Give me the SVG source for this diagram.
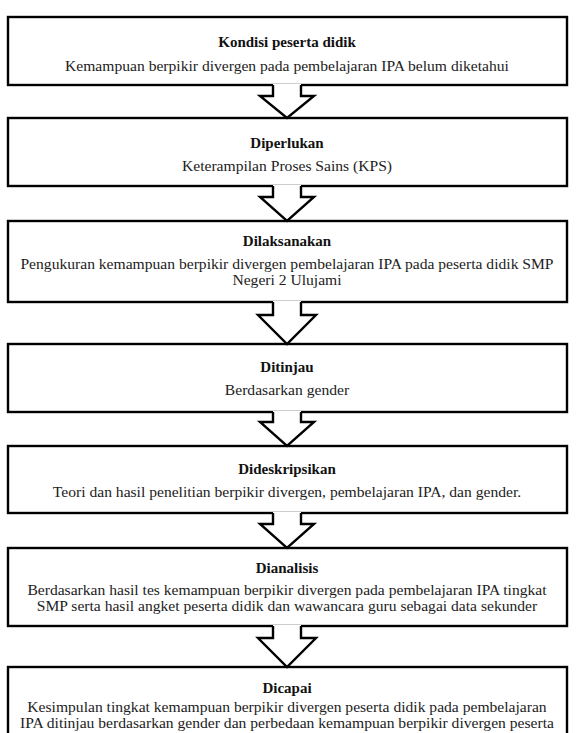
<svg xmlns="http://www.w3.org/2000/svg" width="576" height="733" viewBox="0 0 576 733">
<style>
.box{fill:#fff;stroke:#000;stroke-width:2.4}
text{font-family:'Liberation Serif','Times New Roman','DejaVu Serif',serif;text-anchor:middle}
.t{font-size:15px;font-weight:bold;fill:#111}
.b{font-size:15.6px;fill:#222}
.af{fill:#fff;stroke:none}
.as{fill:none;stroke:#000;stroke-width:2.4;stroke-linejoin:miter}
</style>
<rect width="576" height="733" fill="#fff"/>
<g id="n1"><rect class="box" x="8" y="17" width="559" height="68"/>
<text class="t" x="287" y="47">Kondisi peserta didik</text>
<text class="b" x="287" y="71">Kemampuan berpikir divergen pada pembelajaran IPA belum diketahui</text></g>
<g id="n2"><rect class="box" x="8" y="118" width="559" height="68"/>
<text class="t" x="287" y="148">Diperlukan</text>
<text class="b" x="287" y="171">Keterampilan Proses Sains (KPS)</text></g>
<g id="n3"><rect class="box" x="8" y="221" width="559" height="81"/>
<text class="t" x="287" y="246">Dilaksanakan</text>
<text class="b" x="287" y="269">Pengukuran kemampuan berpikir divergen pembelajaran IPA pada peserta didik SMP</text>
<text class="b" x="287" y="285">Negeri 2 Ulujami</text></g>
<g id="n4"><rect class="box" x="8" y="344" width="559" height="68"/>
<text class="t" x="287" y="372">Ditinjau</text>
<text class="b" x="287" y="395">Berdasarkan gender</text></g>
<g id="n5"><rect class="box" x="8" y="446" width="559" height="67"/>
<text class="t" x="287" y="474">Dideskripsikan</text>
<text class="b" x="287" y="497">Teori dan hasil penelitian berpikir divergen, pembelajaran IPA, dan gender.</text></g>
<g id="n6"><rect class="box" x="8" y="548" width="559" height="78"/>
<text class="t" x="287" y="573">Dianalisis</text>
<text class="b" x="287" y="595">Berdasarkan hasil tes  kemampuan berpikir divergen pada pembelajaran IPA tingkat</text>
<text class="b" x="287" y="611">SMP serta hasil angket peserta didik dan wawancara guru sebagai  data sekunder</text></g>
<g id="n7"><rect class="box" x="8" y="667" width="559" height="90"/>
<text class="t" x="287" y="693">Dicapai</text>
<text class="b" x="287" y="712">Kesimpulan tingkat kemampuan berpikir divergen peserta didik pada pembelajaran</text>
<text class="b" x="287" y="728">IPA ditinjau berdasarkan gender dan perbedaan kemampuan berpikir divergen peserta</text></g>
<g id="connectors">
<path class="af" d="M273,84 V96 H260 L287,118 L314,96 H301 V84 Z"/>
<polyline class="as" points="273,85 273,96 260,96 287,118 314,96 301,96 301,85"/>
<path class="af" d="M273,185 V197 H260 L287,221 L314,197 H301 V185 Z"/>
<polyline class="as" points="273,186 273,197 260,197 287,221 314,197 301,197 301,186"/>
<path class="af" d="M273,301 V315 H258 L287,344 L316,315 H301 V301 Z"/>
<polyline class="as" points="273,302 273,315 258,315 287,344 316,315 301,315 301,302"/>
<path class="af" d="M273,411 V422 H260 L287,446 L314,422 H301 V411 Z"/>
<polyline class="as" points="273,412 273,422 260,422 287,446 314,422 301,422 301,412"/>
<path class="af" d="M273,512 V524 H260 L287,548 L314,524 H301 V512 Z"/>
<polyline class="as" points="273,513 273,524 260,524 287,548 314,524 301,524 301,513"/>
<path class="af" d="M273,625 V638 H258 L287,667 L316,638 H301 V625 Z"/>
<polyline class="as" points="273,626 273,638 258,638 287,667 316,638 301,638 301,626"/>
</g>
</svg>
